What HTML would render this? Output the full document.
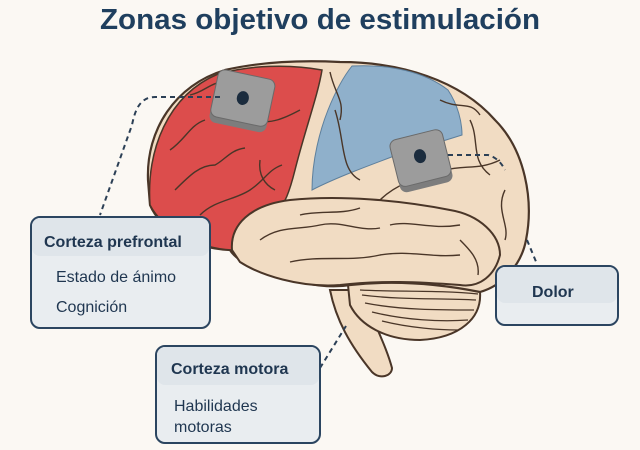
<!DOCTYPE html>
<html><head><meta charset="utf-8"><style>
html,body{margin:0;padding:0;background:#fbf8f3;}
svg{display:block}
text{font-family:"Liberation Sans",sans-serif;}
</style></head><body>
<svg width="640" height="450" viewBox="0 0 640 450" xmlns="http://www.w3.org/2000/svg">
<rect width="640" height="450" fill="#fbf8f3"/>
<text x="320" y="29" text-anchor="middle" font-size="29" font-weight="bold" fill="#1f3f5e" textLength="440" lengthAdjust="spacingAndGlyphs">Zonas objetivo de estimulación</text>

<!-- brainstem -->
<path d="M330 290 C336 320 350 345 372 372 C380 380 392 376 392 368 C386 345 372 320 362 290 Z" fill="#f1dcc3" stroke="#4a3628" stroke-width="2"/>
<!-- cerebellum -->
<path d="M348 285 C390 278 450 280 480 292 C482 318 460 338 420 340 C385 340 360 325 350 305 Z" fill="#f1dcc3" stroke="#4a3628" stroke-width="2"/>
<g fill="none" stroke="#4a3628" stroke-width="1.3">
<path d="M362 295 C400 300 440 298 476 300"/><path d="M365 303 C400 310 440 310 474 310"/>
<path d="M372 312 C405 320 440 322 468 320"/><path d="M382 321 C410 328 440 330 458 330"/>
<path d="M360 290 C395 292 440 290 478 294"/>
</g>
<!-- cerebrum -->
<path d="M148 180 C146 130 175 85 225 70 C260 62 300 60 340 62 C400 62 460 80 495 120 C525 150 534 200 526 240 C522 262 505 285 480 292 C440 284 395 280 350 285 C320 290 290 280 265 270 C245 265 235 258 230 250 C190 248 160 228 150 205 Z" fill="#f1dcc3" stroke="#4a3628" stroke-width="2.2"/>
<!-- red frontal -->
<path d="M150 205 C146 150 168 95 218 74 C250 65 290 64 322 70 C318 95 305 130 295 170 C290 190 285 205 275 215 C255 225 240 235 232 250 C195 248 162 228 150 205 Z" fill="#dc4d4c" stroke="#4a3628" stroke-width="1.5"/>
<!-- blue -->
<path d="M352 66 C390 64 425 72 448 90 C458 105 462 122 462 135 C440 142 420 148 405 152 C370 165 335 178 312 190 C312 160 320 130 328 110 C336 90 344 76 352 66 Z" fill="#8fb0cb" stroke="#5d7f9c" stroke-width="1"/>
<!-- temporal lobe -->
<path d="M232 250 C230 225 250 205 290 200 C340 195 400 200 450 210 C480 215 500 235 500 255 C495 275 480 288 460 285 C420 282 380 280 340 285 C300 288 260 275 240 262 Z" fill="#f1dcc3" stroke="#4a3628" stroke-width="2"/>
<!-- gyri -->
<g fill="none" stroke="#4a3628" stroke-width="1.4">
<path d="M170 150 C185 140 190 125 205 120"/><path d="M175 190 C190 175 200 165 215 165 C225 160 230 150 245 148"/>
<path d="M200 215 C215 200 235 200 250 190 C265 180 268 170 282 165"/><path d="M255 120 C270 125 285 118 300 110"/>
<path d="M190 95 C205 92 210 82 225 82"/><path d="M260 160 C258 175 265 185 275 190"/>
<path d="M335 110 C345 140 340 170 360 180"/><path d="M380 200 C400 180 430 175 445 170 C465 165 480 170 500 160"/>
<path d="M470 120 C480 140 470 160 490 175"/><path d="M505 190 C495 210 510 225 505 240"/>
<path d="M260 240 C280 225 300 230 320 225 C340 220 360 232 380 228"/><path d="M290 262 C320 255 350 262 380 255 C410 250 430 258 460 255"/>
<path d="M390 225 C410 220 430 230 460 225"/><path d="M300 215 C320 210 340 215 360 208"/>
<path d="M460 240 C470 250 480 260 478 275"/>
<path d="M330 72 C335 95 345 100 340 120"/><path d="M440 100 C460 110 470 100 480 115"/>
</g>
<!-- electrodes -->
<g transform="rotate(12 242 102)"><rect x="213" y="78" width="58" height="50" rx="7" fill="#7d7d7d"/><rect x="213" y="74" width="58" height="48" rx="7" fill="#9c9c9c" stroke="#6a6a6a"/><ellipse cx="242" cy="98" rx="6" ry="7" fill="#1b2c3e"/></g>
<g transform="rotate(-14 421 160)"><rect x="394" y="138" width="54" height="50" rx="7" fill="#7d7d7d"/><rect x="394" y="134" width="54" height="48" rx="7" fill="#9c9c9c" stroke="#6a6a6a"/><ellipse cx="421" cy="156" rx="6" ry="7" fill="#1b2c3e"/></g>
<!-- dashed connectors -->
<g fill="none" stroke="#2b3f55" stroke-width="2" stroke-dasharray="5,4">
<path d="M220 97 L155 97 C140 97 135 110 132 125 L100 215"/>
<path d="M448 155 L488 155 C500 158 505 170 505 170"/>
<path d="M527 240 L537 264"/>
<path d="M320 368 L346 326"/>
</g>
<!-- boxes -->
<g stroke="#2b4560" stroke-width="2">
<rect x="31" y="217" width="179" height="111" rx="9" fill="#e9edf0"/>
<rect x="496" y="266" width="122" height="59" rx="9" fill="#e9edf0"/>
<rect x="156" y="346" width="164" height="97" rx="9" fill="#e9edf0"/>
</g>
<rect x="32" y="218" width="177" height="38" rx="8" fill="#dfe5ea"/>
<rect x="497" y="267" width="120" height="36" rx="8" fill="#dfe5ea"/>
<rect x="157" y="347" width="162" height="38" rx="8" fill="#dfe5ea"/>
<g fill="#1f3650">
<text x="44" y="247" font-size="16" font-weight="bold">Corteza prefrontal</text>
<text x="56" y="282" font-size="16">Estado de ánimo</text>
<text x="56" y="312" font-size="16">Cognición</text>
<text x="532" y="297" font-size="16" font-weight="bold">Dolor</text>
<text x="171" y="374" font-size="16" font-weight="bold">Corteza motora</text>
<text x="174" y="411" font-size="16">Habilidades</text>
<text x="174" y="432" font-size="16">motoras</text>
</g>
</svg>
</body></html>
